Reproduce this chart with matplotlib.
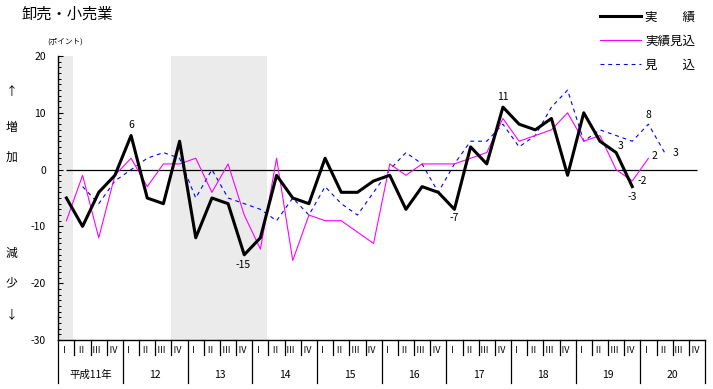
import matplotlib
matplotlib.use("Agg")
import matplotlib.pyplot as plt
import numpy as np
from matplotlib.ticker import MultipleLocator

plt.rcParams["font.family"] = ["Noto Sans CJK JP", "DejaVu Sans"]
plt.rcParams["axes.unicode_minus"] = False

### data (points, quarterly from H11 I)
title = "卸売・小売業"
unit_label = "(ポイント)"
years = ["平成11年", "12", "13", "14", "15", "16", "17", "18", "19", "20"]
quarters = ["Ⅰ", "Ⅱ", "Ⅲ", "Ⅳ"]

actual = [-5, -10, -4, -1, 6, -5, -6, 5, -12, -5, -6, -15, -12, -1, -5, -6,
          2, -4, -4, -2, -1, -7, -3, -4, -7, 4, 1, 11, 8, 7, 9, -1,
          10, 5, 3, -3]
actual_est = [-9, -1, -12, -1, 2, -3, 1, 1, 2, -4, 1, -8, -14, 2, -16, -8,
              -9, -9, -11, -13, 1, -1, 1, 1, 1, 2, 3, 9, 5, 6, 7, 10,
              5, 6, 0, -2, 2]
forecast_start = 1  # forecast series begins at H11 II
forecast = [-3, -6, -2, 0, 2, 3, 2, -5, 0, -5, -6, -7, -9, -5, -8,
            -3, -6, -8, -4, 0, 3, 1, -4, 1, 5, 5, 8, 4, 6, 11, 14,
            5, 7, 6, 5, 8, 3]

# shaded (recession) periods, in quarters from H11 I
shade_spans = [(0.0, 0.9), (7.0, 12.9)]

# (series, quarter index, text, dx pt, dy pt, ha)
point_labels = [
    ("actual", 4, "6", 0, 7.5, "center"),
    ("actual", 11, "-15", -0.5, -7, "center"),
    ("actual", 24, "-7", 0, -6, "center"),
    ("actual", 27, "11", 0, 7.5, "center"),
    ("actual", 34, "3", 3.5, 5, "center"),
    ("actual", 35, "-3", 0, -7.5, "center"),
    ("actual_est", 35, "-2", 3.5, 0, "left"),
    ("actual_est", 36, "2", 2, 1.5, "left"),
    ("forecast", 36, "8", 0, 6.5, "center"),
    ("forecast", 37, "3", 5.5, 0, "left"),
]

n_q = len(years) * 4
x = np.arange(n_q) + 0.5
series = {
    "actual": (0, actual),
    "actual_est": (0, actual_est),
    "forecast": (forecast_start, forecast),
}

### figure
fig = plt.figure(figsize=(7.13, 3.89), dpi=100)
ax = fig.add_axes([0.0818, 0.126, 0.907, 0.730])

for a, b in shade_spans:
    ax.axvspan(a, b, facecolor="#ebebeb", edgecolor="none", zorder=0)

ax.hlines(0, x[0], x[-1], color="black", lw=0.9, zorder=1)

styles = {
    "forecast": dict(color="#0000ff", lw=0.8, ls=(0, (3.5, 3.5)), label="見\u3000\u3000込", zorder=2),
    "actual_est": dict(color="#ff00ff", lw=0.8, label="実績見込", zorder=3),
    "actual": dict(color="black", lw=2.2, label="実\u3000\u3000績", zorder=4),
}
lines = {}
for key in ["forecast", "actual_est", "actual"]:
    st, vals = series[key]
    lines[key], = ax.plot(x[st:st + len(vals)], vals, **styles[key])

for key, i, txt, dx, dy, ha in point_labels:
    st, vals = series[key]
    ax.annotate(txt, xy=(x[i], vals[i - st]), xytext=(dx, dy), textcoords="offset points",
                ha=ha, va="center", fontsize=7.5)

ax.set_xlim(0, n_q)
ax.set_ylim(-30, 20)
ax.set_yticks(range(-30, 21, 10))
ax.yaxis.set_minor_locator(MultipleLocator(1))
ax.tick_params(axis="y", which="major", direction="in", length=3.5, width=0.8,
               labelsize=7.5, pad=9)
ax.tick_params(axis="y", which="minor", direction="in", length=2, width=0.7)
ax.set_xticks([])
for s in ["top", "right"]:
    ax.spines[s].set_visible(False)
for s in ["left", "bottom"]:
    ax.spines[s].set_linewidth(1.0)

# quarter / year axis below
tr = ax.get_xaxis_transform()
for k in range(n_q + 1):
    low = -0.152 if k % 4 == 0 else -0.053
    ax.plot([k, k], [0, low], transform=tr, color="black", lw=0.9, clip_on=False)
for k in range(n_q):
    ax.text(k + 0.36, -0.036, quarters[k % 4], transform=tr, ha="center", va="center",
            fontsize=6.5)
for j, yl in enumerate(years):
    ax.text(j * 4 + 2, -0.123, yl, transform=tr, ha="center", va="center", fontsize=7.5)

# texts around
fig.text(22 / 713, 1 - 14 / 389, title, ha="left", va="center", fontsize=11)
fig.text(65 / 713, 1 - 41.5 / 389, unit_label, ha="center", va="center", fontsize=5.5)
for txt, ypx in [("↑", 91), ("増", 127), ("加", 157), ("減", 253), ("少", 283), ("↓", 315)]:
    fig.text(11.5 / 713, 1 - ypx / 389, txt, ha="center", va="center", fontsize=8.5)

order = ["actual", "actual_est", "forecast"]
fig.legend([lines[k] for k in order], [styles[k]["label"] for k in order],
           loc="upper left", bbox_to_anchor=(600 / 713, 1 - 10.5 / 389),
           frameon=False, fontsize=9, handlelength=3.3, handletextpad=0.3,
           labelspacing=0.88, borderpad=0, borderaxespad=0)

fig.savefig("out.png", dpi=100)
